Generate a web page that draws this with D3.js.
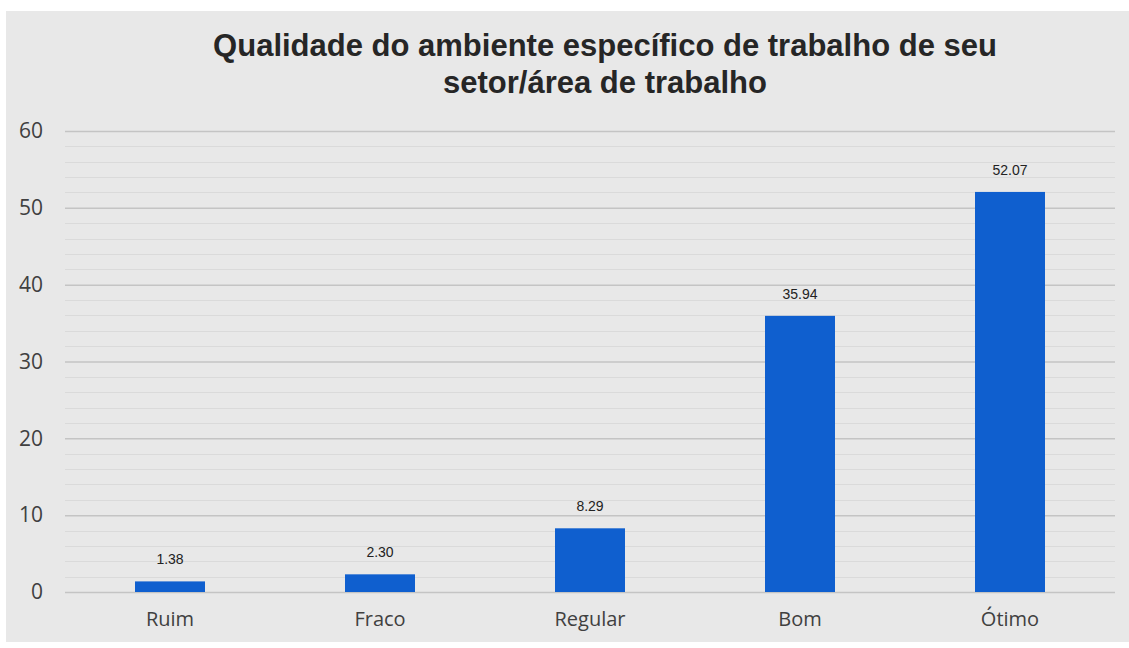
<!DOCTYPE html>
<html>
<head>
<meta charset="utf-8">
<script src="https://cdn.jsdelivr.net/npm/d3@7"></script>
<style>
  body { margin: 0; background: #fff; }
  svg { display: block; }
</style>
</head>
<body>
<div class="chart"></div>
<script>
// data
let categories = ['Ruim', 'Fraco', 'Regular', 'Bom', 'Ótimo'];
let values = [1.38, 2.30, 8.29, 35.94, 52.07];
let yTicks = [0, 10, 20, 30, 40, 50, 60];
let titleLines = ['Qualidade do ambiente específico de trabalho de seu', 'setor/área de trabalho'];

let W = 1129, H = 648;
let margin = {top: 131, right: 14, bottom: 56, left: 65};
let width = W - margin.left - margin.right;
let height = H - margin.top - margin.bottom;

let svg = d3.select('.chart')
	.append('svg')
	.attr('width', W)
	.attr('height', H);

// gray panel
svg.append('rect')
	.attr('x', 6).attr('y', 11)
	.attr('width', W - 6).attr('height', H - 17)
	.style('fill', '#e8e8e8');

svg.selectAll('text.title')
	.data(titleLines)
	.enter()
	.append('text')
	.attr('class', 'title')
	.attr('x', 605)
	.attr('y', (d, i) => 56 + i * 37)
	.attr('text-anchor', 'middle')
	.style('font-family', 'Liberation Sans, Arial, sans-serif')
	.style('font-weight', 'bold')
	.style('font-size', '31px')
	.style('fill', '#262626')
	.text(d => d);

let g = svg.append('g')
	.attr('transform', 'translate(' + margin.left + ',' + margin.top + ')');

let yScale = d3.scaleLinear()
	.domain([0, 60])
	.range([height, 0]);

let xScale = d3.scaleBand()
	.domain(categories)
	.range([0, width])
	.paddingInner(2 / 3)
	.paddingOuter(1 / 3);

// minor gridlines every 2
g.append('g')
	.selectAll('line')
	.data(d3.range(0, 60, 2).filter(v => v % 10 !== 0))
	.enter()
	.append('line')
	.attr('x1', 0).attr('x2', width)
	.attr('y1', d => Math.round(yScale(d)) + 0.5)
	.attr('y2', d => Math.round(yScale(d)) + 0.5)
	.style('stroke', '#dadada')
	.style('stroke-width', 1);

// major gridlines + labels
let yAxis = d3.axisLeft(yScale)
	.tickValues(yTicks)
	.tickSize(-width)
	.tickPadding(22);

g.append('g')
	.call(yAxis)
	.call(a => a.select('.domain').remove())
	.call(a => a.selectAll('.tick line').style('stroke', '#c4c4c4').style('stroke-width', 1.5))
	.call(a => a.selectAll('.tick text')
		.style('font-family', 'Open Sans, sans-serif')
		.style('font-size', '21px')
		.style('fill', '#404040'));

let xAxis = d3.axisBottom(xScale).tickSize(0).tickPadding(20);

g.append('g')
	.attr('transform', 'translate(0,' + height + ')')
	.call(xAxis)
	.call(a => a.select('.domain').remove())
	.call(a => a.selectAll('.tick text')
		.style('font-family', 'Open Sans, sans-serif')
		.style('font-size', '20px')
		.style('fill', '#404040'));

g.selectAll('rect.bar')
	.data(values)
	.enter()
	.append('rect')
	.attr('class', 'bar')
	.attr('x', (d, i) => xScale(categories[i]))
	.attr('y', d => yScale(d))
	.attr('width', xScale.bandwidth())
	.attr('height', d => height - yScale(d))
	.style('fill', '#0f5fcf');

g.selectAll('text.val')
	.data(values)
	.enter()
	.append('text')
	.attr('class', 'val')
	.attr('x', (d, i) => xScale(categories[i]) + xScale.bandwidth() / 2)
	.attr('y', d => yScale(d) - 17)
	.attr('text-anchor', 'middle')
	.style('font-family', 'Liberation Sans, Arial, sans-serif')
	.style('font-size', '14px')
	.style('fill', '#222')
	.text(d => d.toFixed(2));
</script>
</body>
</html>
